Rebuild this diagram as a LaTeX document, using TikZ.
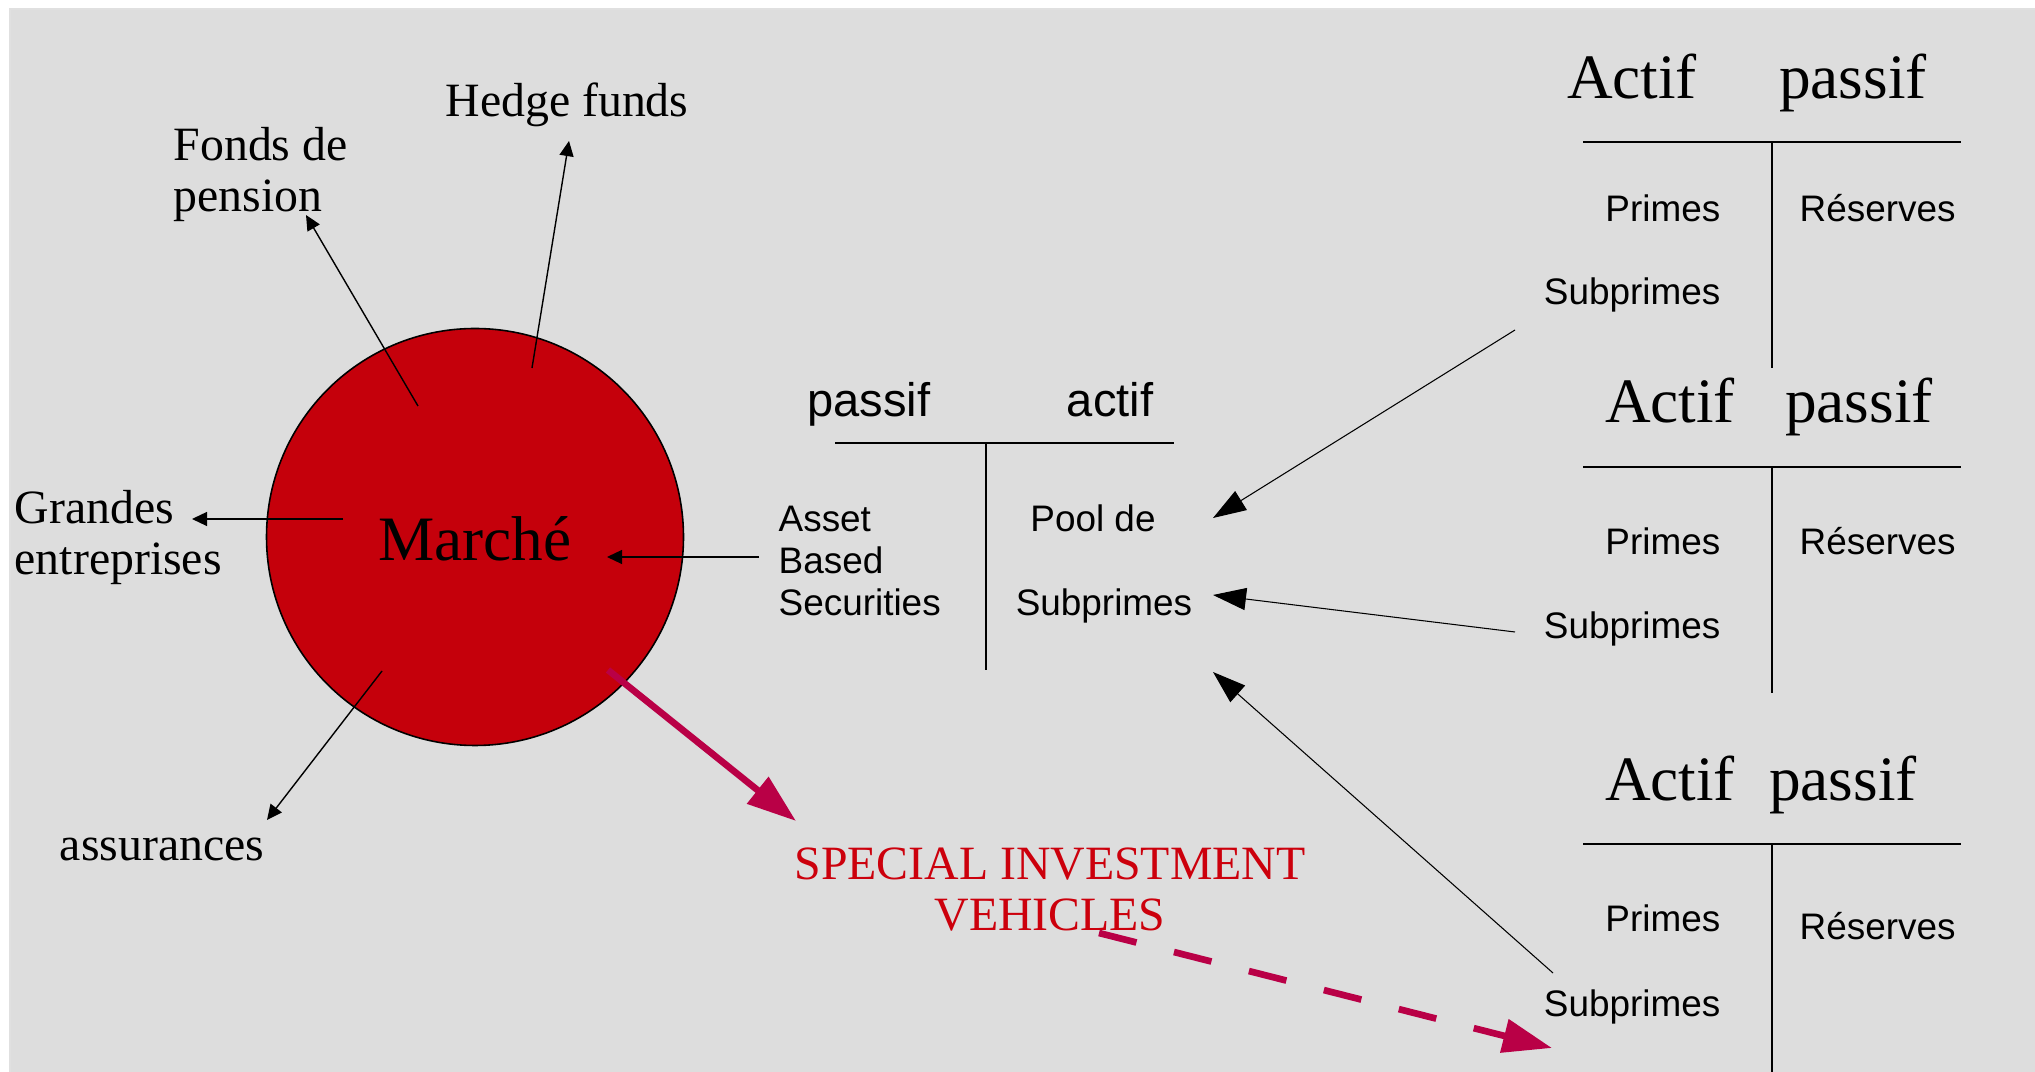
\documentclass[tikz,border=0pt]{standalone}
\usepackage{fontspec}
\setmainfont{Liberation Serif}
\setsansfont{Liberation Sans}
\usepackage{tikz}
\usetikzlibrary{arrows.meta}

\definecolor{gris}{RGB}{221,221,221}
\definecolor{rougemarche}{RGB}{197,0,11}
\definecolor{rougefleche}{RGB}{185,0,70}
\definecolor{rougesiv}{RGB}{204,0,12}

\begin{document}
\begin{tikzpicture}[
  lab/.style={inner sep=0pt,font=\fontsize{13.6}{14.5}\selectfont},
  titre/.style={inner sep=0pt,font=\fontsize{18}{20}\selectfont},
  poste/.style={inner sep=0pt,font=\sffamily\fontsize{10.5}{11.9}\selectfont},
  entete/.style={inner sep=0pt,font=\sffamily\fontsize{13.4}{15}\selectfont},
  fin/.style={-{Triangle[length=4.3pt,width=4pt]},line width=0.4pt},
  gros/.style={-{Triangle[length=9.4pt,width=6.3pt]},line width=0.3pt},
  rouge/.style={-{Triangle[length=14pt,width=9.4pt]},line width=1.9pt,color=rougefleche},
  compte/.style={line width=0.55pt}
]
  \useasboundingbox (0,0) rectangle (20.35,-10.72);
  \fill[white] (0,0) rectangle (20.35,-10.72);
  \draw[fill=gris,draw=black!12] (0.10,-0.09) rectangle (20.40,-10.77);

  \draw[fill=rougemarche,line width=0.45pt] (4.75,-5.37) circle (2.085);
  \draw (4.75,-5.61) node[titre,anchor=base] (marche) {Marché};

  \draw (5.67,-1.17) node[lab,anchor=base] (hedge) {Hedge funds};
  \draw (1.73,-1.264) node[lab,anchor=north west,align=left] (fonds) {Fonds de\\pension};
  \draw (0.14,-4.90) node[lab,anchor=north west,align=left] (grandes) {Grandes\\entreprises};
  \draw (1.62,-8.61) node[lab,anchor=base] (assur) {assurances};
  \draw (10.50,-8.47) node[lab,anchor=north,align=center,text=rougesiv] (siv) {SPECIAL INVESTMENT\\VEHICLES};

  \draw (8.69,-4.17) node[entete,anchor=base] (passif) {passif};
  \draw (11.10,-4.17) node[entete,anchor=base] (actif) {actif};
  \draw[compte] (8.35,-4.43) -- (11.74,-4.43);
  \draw[compte] (9.86,-4.43) -- (9.86,-6.70);
  \draw (7.78,-5.056) node[poste,anchor=north west,align=left] (abs) {Asset\\Based\\Securities};
  \draw (10.93,-5.32) node[poste,anchor=base] (pool) {Pool de};
  \draw (11.04,-6.16) node[poste,anchor=base] (subm) {Subprimes};

  \draw (16.32,-0.99) node[titre,anchor=base] (actif1) {Actif};
  \draw (18.53,-0.99) node[titre,anchor=base] (passif1) {passif};
  \draw[compte] (15.83,-1.42) -- (19.61,-1.42);
  \draw[compte] (17.72,-1.42) -- (17.72,-3.68);
  \draw (17.21,-2.22) node[poste,anchor=base east] (primes1) {Primes};
  \draw (17.99,-2.22) node[poste,anchor=base west] (reserves1) {Réserves};
  \draw (17.21,-3.05) node[poste,anchor=base east] (sub1) {Subprimes};

  \draw (16.70,-4.23) node[titre,anchor=base] (actif2) {Actif};
  \draw (18.59,-4.23) node[titre,anchor=base] (passif2) {passif};
  \draw[compte] (15.83,-4.67) -- (19.61,-4.67);
  \draw[compte] (17.72,-4.67) -- (17.72,-6.93);
  \draw (17.21,-5.55) node[poste,anchor=base east] (primes2) {Primes};
  \draw (17.99,-5.55) node[poste,anchor=base west] (reserves2) {Réserves};
  \draw (17.21,-6.39) node[poste,anchor=base east] (sub2) {Subprimes};

  \draw (16.70,-8.01) node[titre,anchor=base] (actif3) {Actif};
  \draw (18.43,-8.01) node[titre,anchor=base] (passif3) {passif};
  \draw[compte] (15.83,-8.44) -- (19.61,-8.44);
  \draw[compte] (17.72,-8.44) -- (17.72,-10.72);
  \draw (17.21,-9.32) node[poste,anchor=base east] (primes3) {Primes};
  \draw (17.99,-9.40) node[poste,anchor=base west] (reserves3) {Réserves};
  \draw (17.21,-10.16) node[poste,anchor=base east] (sub3) {Subprimes};

  \coordinate (hf-in) at (5.32,-3.68);
  \coordinate (hf-tip) at (5.69,-1.41);
  \coordinate (fp-in) at (4.18,-4.06);
  \coordinate (fp-tip) at (3.06,-2.15);
  \coordinate (ge-in) at (3.43,-5.19);
  \coordinate (ge-tip) at (1.92,-5.19);
  \coordinate (as-in) at (3.82,-6.71);
  \coordinate (as-tip) at (2.67,-8.20);
  \coordinate (abs-out) at (7.59,-5.57);
  \coordinate (m-tip) at (6.07,-5.57);
  \coordinate (siv-in) at (6.08,-6.70);
  \coordinate (siv-tip) at (7.96,-8.21);
  \coordinate (siv-out) at (10.99,-9.33);
  \coordinate (sub3-tip) at (15.52,-10.48);
  \coordinate (sub1-out) at (15.15,-3.30);
  \coordinate (pool-tip) at (12.13,-5.18);
  \coordinate (sub2-out) at (15.15,-6.32);
  \coordinate (subm-tip) at (12.13,-5.95);
  \coordinate (sub3-out) at (15.53,-9.73);
  \coordinate (low-tip) at (12.13,-6.72);

  \path[fin] (hf-in) edge (hf-tip);
  \path[fin] (fp-in) edge (fp-tip);
  \path[fin] (ge-in) edge (ge-tip);
  \path[fin] (as-in) edge (as-tip);
  \path[fin] (abs-out) edge (m-tip);

  \path[gros] (sub1-out) edge (pool-tip);
  \path[gros] (sub2-out) edge (subm-tip);
  \path[gros] (sub3-out) edge (low-tip);

  \path[rouge] (siv-in) edge (siv-tip);
  \path[rouge,dash pattern=on 11pt off 11pt] (siv-out) edge (sub3-tip);
\end{tikzpicture}
\end{document}
